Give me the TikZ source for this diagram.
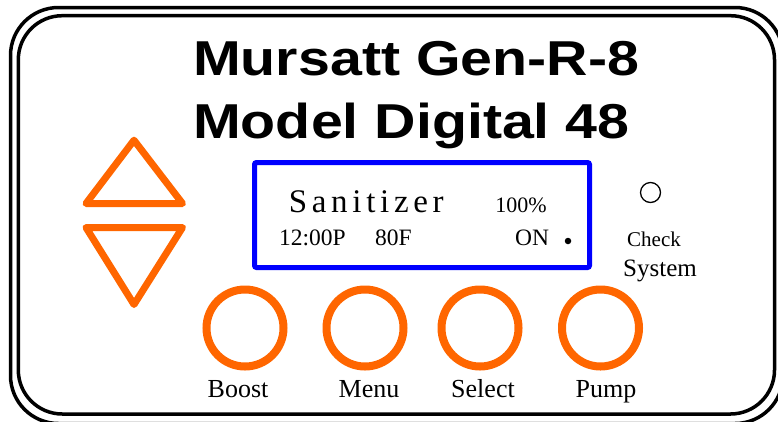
\documentclass[tikz,border=0pt]{standalone}
\usepackage{fontspec}
\usepackage{graphicx}
\setmainfont{Liberation Serif}
\newfontfamily\titlefont{Liberation Sans}
\definecolor{btnorange}{HTML}{FF6600}
\definecolor{lcdblue}{HTML}{0000FF}
\tikzset{
  frame/.style={draw=black, line width=3.5pt},
  btn/.style={circle, draw=btnorange, line width=8pt, minimum size=77pt, inner sep=0pt},
  arrowbtn/.style={draw=btnorange, line width=7pt, line join=round},
  lbl/.style={anchor=base, inner sep=0pt, font=\fontsize{26}{30}\selectfont},
  lcdtxt/.style={anchor=base, inner sep=0pt, font=\fontsize{23.5}{28}\selectfont},
  titletxt/.style={anchor=base west, inner sep=0pt, font=\titlefont\bfseries\fontsize{49}{55}\selectfont},
}
\begin{document}
\begin{tikzpicture}[x=1pt,y=-1pt]
\useasboundingbox (0,0) rectangle (778,421);
\clip (0,0) rectangle (778,421);
% outer double frame
\draw[frame, rounded corners=48pt] (10.5,7.5) rectangle (783,423.5);
\draw[frame, rounded corners=44pt] (18.3,15.7) rectangle (774.5,414);
% title
\node[titletxt] (title1) at (193,75) {\scalebox{1.17}[1]{Mursatt Gen-R-8}};
\node[titletxt] (title2) at (193,138) {\scalebox{1.17}[1]{Model Digital 48}};
% display
\node[draw=lcdblue, line width=5pt, rounded corners=2pt, minimum width=335pt, minimum height=105pt, inner sep=0pt] (lcd) at (422,215) {};
\node[anchor=base west, inner sep=0pt, font=\fontsize{33}{38}\selectfont] (san) at (288.6,212.5)
  {S\kern4.7pt a\kern4.7pt n\kern4.7pt i\kern4.7pt t\kern4.7pt i\kern4.7pt z\kern4.7pt e\kern4.7pt r};
\node[lcdtxt, font=\fontsize{22}{26}\selectfont] (pct) at (521,212.5) {100\%};
\node[lcdtxt] (time) at (312.5,245) {12:00P};
\node[lcdtxt] (temp) at (393.5,245) {80F};
\node[lcdtxt] (on) at (532,245) {ON};
\node[circle, fill=black, inner sep=0pt, minimum size=6.5pt] (dot) at (568,241) {};
% check system
\node[circle, draw=black, line width=1.3pt, minimum size=20pt, inner sep=0pt] (led) at (650.5,192.5) {};
\node[anchor=base, inner sep=0pt, font=\fontsize{21}{24}\selectfont] (check) at (654,246) {Check};
\node[anchor=base, inner sep=0pt, font=\fontsize{25}{28}\selectfont] (system) at (660,276) {System};
% arrows
\draw[arrowbtn] (134,140.2) -- (182.5,203.5) -- (86,203.5) -- cycle;
\draw[arrowbtn] (86,227.5) -- (182.5,227.5) -- (134,304.5) -- cycle;
% buttons
\node[btn] (boost) at (245,328) {};
\node[btn] (menu) at (365,328) {};
\node[btn] (select) at (480,328) {};
\node[btn] (pump) at (600.5,328) {};
\node[lbl] (boostl) at (238,397) {Boost};
\node[lbl] (menul) at (369,397) {Menu};
\node[lbl] (selectl) at (483,397) {Select};
\node[lbl] (pumpl) at (606,397) {Pump};
\end{tikzpicture}
\end{document}
